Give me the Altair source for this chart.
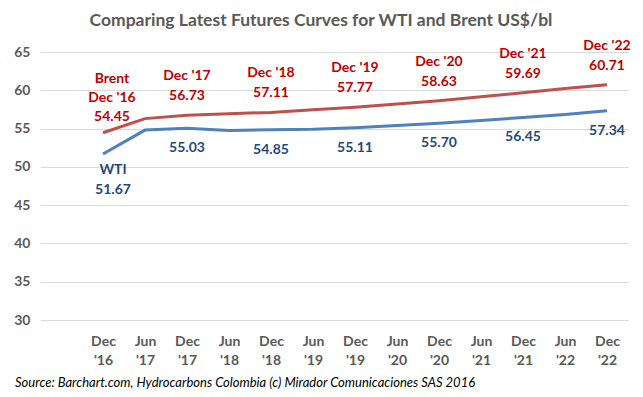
import altair as alt
import pandas as pd

categories = ["Dec '16", "Jun '17", "Dec '17", "Jun '18", "Dec '18", "Jun '19", "Dec '19",
              "Jun '20", "Dec '20", "Jun '21", "Dec '21", "Jun '22", "Dec '22"]
brent = [54.45, 56.30, 56.73, 56.95, 57.11, 57.45, 57.77, 58.20, 58.63, 59.15, 59.69, 60.22, 60.71]
wti = [51.67, 54.80, 55.03, 54.75, 54.85, 54.90, 55.11, 55.40, 55.70, 56.05, 56.45, 56.85, 57.34]
series_names = ["Brent", "WTI"]

FONT = "Lato"
rows = []
for c, b, w in zip(categories, brent, wti):
    rows.append({"cat": c, "series": "Brent", "value": b})
    rows.append({"cat": c, "series": "WTI", "value": w})
df = pd.DataFrame(rows)

# label rows: one row per text line, with a role deciding its vertical offset
lab = []
for i, (c, b, w) in enumerate(zip(categories, brent, wti)):
    if not c.startswith("Dec"):
        continue
    if i == 0:
        lab += [
            {"cat": c, "value": b, "text": "Brent", "role": "b0name"},
            {"cat": c, "value": b, "text": c, "role": "b0date"},
            {"cat": c, "value": b, "text": f"{b:.2f}", "role": "b0val"},
            {"cat": c, "value": w, "text": "WTI", "role": "w0name"},
            {"cat": c, "value": w, "text": f"{w:.2f}", "role": "w0val"},
        ]
    else:
        lab += [
            {"cat": c, "value": b, "text": c, "role": "bdate"},
            {"cat": c, "value": b, "text": f"{b:.2f}", "role": "bval"},
            {"cat": c, "value": w, "text": f"{w:.2f}", "role": "wval"},
        ]
labdf = pd.DataFrame(lab)

x_enc = alt.X("cat:O", sort=categories,
              scale=alt.Scale(type="point", domain=categories, padding=1, align=0.75),
              axis=alt.Axis(title=None, labelAngle=0, labelExpr="split(datum.label, ' ')",
                            labelFont=FONT, labelFontSize=14, labelFontWeight="bold",
                            labelColor="#595959", labelLineHeight=19, labelPadding=14,
                            ticks=False, domain=False, grid=False, labelBaseline="top"))
y_enc = alt.Y("value:Q", scale=alt.Scale(domain=[30, 65], nice=False, zero=False),
              axis=alt.Axis(title=None, values=[30, 35, 40, 45, 50, 55, 60, 65],
                            labelOverlap=False,
                            labelFont=FONT, labelFontSize=14, labelFontWeight="bold",
                            labelColor="#595959", labelPadding=10, ticks=False, domain=False,
                            gridColor="#D9D9D9", gridWidth=1))

lines = alt.Chart(df).mark_line(strokeWidth=3).encode(
    x=x_enc, y=y_enc,
    color=alt.Color("series:N", scale=alt.Scale(domain=series_names, range=["#C0504D", "#4F81BD"]),
                    legend=None),
)

offsets = {
    "b0name": (-54, "#C00000", 9), "b0date": (-35, "#C00000", 9), "b0val": (-16, "#C00000", 9),
    "w0name": (16, "#1F497D", 10), "w0val": (36, "#1F497D", 10),
    "bdate": (-39, "#C00000", 0), "bval": (-19, "#C00000", 0), "wval": (20, "#1F497D", 0),
}
text_layers = []
for role, (dy, col, dx) in offsets.items():
    text_layers.append(
        alt.Chart(labdf).transform_filter(alt.datum.role == role).mark_text(
            baseline="middle", dy=dy, dx=dx, font=FONT, fontSize=14, fontWeight="bold", color=col
        ).encode(x=x_enc, y=y_enc, text="text:N")
    )

source = alt.Chart(pd.DataFrame({"t": ["Source:  Barchart.com,  Hydrocarbons  Colombia (c) Mirador Comunicaciones  SAS 2016"]})).mark_text(
    align="left", baseline="middle", font=FONT, fontSize=13, fontStyle="italic", color="#000000"
).encode(x=alt.value(-25), y=alt.value(331), text="t:N")

chart = alt.layer(lines, *text_layers, source).properties(
    width=588, height=268,
    title=alt.TitleParams("Comparing Latest Futures Curves for WTI and Brent US$/bl",
                          font=FONT, fontSize=17.5, fontWeight="bold", color="#595959",
                          anchor="middle", dx=-13, offset=9),
    autosize=alt.AutoSizeParams(type="none"),
    padding={"left": 32, "top": 44, "right": 7, "bottom": 69},
).configure_view(stroke=None)

chart.save("out.html", embed_options={"renderer": "svg", "actions": False})
